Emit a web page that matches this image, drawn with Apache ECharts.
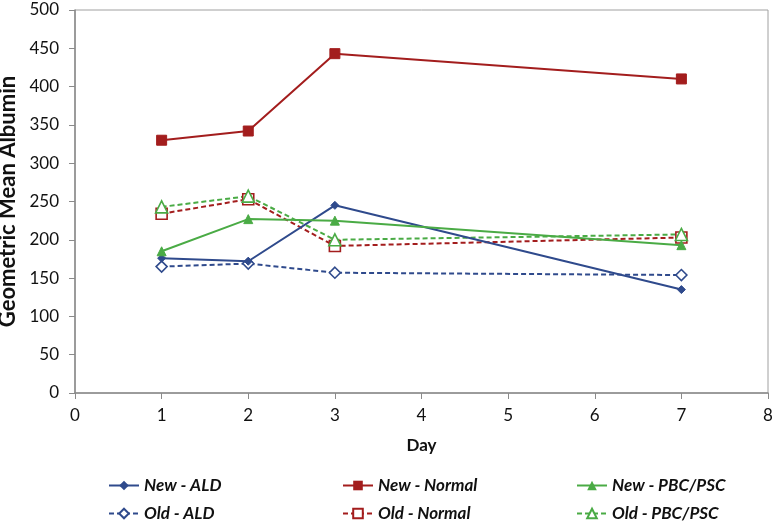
<!DOCTYPE html>
<html><head><meta charset="utf-8">
<script src="https://cdn.jsdelivr.net/npm/echarts@6/dist/echarts.min.js"></script>
<style>html,body{margin:0;padding:0;background:#fff}#c{width:776px;height:524px}</style>
</head><body><div id="c"></div>
<script>
const days = [1, 2, 3, 7];
const newALD = [176, 172, 245, 135];
const newNormal = [330, 342, 443, 410];
const newPBC = [185, 227, 225, 193];
const oldALD = [165, 169, 157, 154];
const oldNormal = [234, 253, 192, 203];
const oldPBC = [243, 257, 200, 207];
const names = ['New - ALD','New - Normal','New - PBC/PSC','Old - ALD','Old - Normal','Old - PBC/PSC'];
const BLUE = '#2f4a8c', RED = '#a31d1d', GREEN = '#4aab45';
const FONT = 'Lato';
function pts(v){ return days.map((d,i)=>[d, v[i]]); }
function ser(name, data, color, symbol, size, dashed){
  return {
    name, type:'line', data: pts(data), symbol, symbolSize: size,
    lineStyle:{color, width:2, type: dashed ? [5,3] : 'solid'},
    itemStyle: dashed ? {color:'#fff', borderColor:color, borderWidth:1.6} : {color, borderColor:color},
    emphasis:{disabled:true}, z: dashed ? 2 : 3
  };
}
const series = [
  ser(names[0], newALD, BLUE, 'diamond', 8, false),
  ser(names[1], newNormal, RED, 'rect', 10, false),
  ser(names[2], newPBC, GREEN, 'triangle', 9, false),
  ser(names[3], oldALD, BLUE, 'diamond', 11, true),
  ser(names[4], oldNormal, RED, 'rect', 11, true),
  ser(names[5], oldPBC, GREEN, 'triangle', 12, true)
];
const legPos = [[103,472],[337,472],[571,472],[103,500],[337,500],[571,500]];
const legends = names.map((n,i)=>({
  data:[n], left: legPos[i][0], top: legPos[i][1], itemWidth: 30, itemHeight: 12, itemGap: 4,
  selectedMode:false,
  textStyle:{fontFamily: FONT, fontStyle:'italic', fontWeight:'bold', fontSize:17, color:'#111'}
}));
const chart = echarts.init(document.getElementById('c'), null, {renderer:'canvas'});
chart.setOption({
  animation:false,
  backgroundColor:'#fff',
  grid:{left:75, right:8, top:10, bottom:131, containLabel:false, outerBoundsMode:'none',
    show:true, borderColor:'#a0a0a0', borderWidth:1},
  legend: legends,
  xAxis:{type:'value', min:0, max:8, interval:1, name:'Day', nameLocation:'middle', nameGap:44,
    nameTextStyle:{fontFamily:FONT, fontWeight:'bold', fontSize:17, color:'#111'},
    axisLine:{lineStyle:{color:'#8a8a8a', width:1.5}}, axisTick:{show:true, length:6, lineStyle:{color:'#8a8a8a'}},
    axisLabel:{fontFamily:FONT, fontSize:17, color:'#111', margin:14}, splitLine:{show:false}},
  yAxis:{type:'value', min:0, max:500, interval:50, name:'Geometric Mean Albumin', nameLocation:'middle', nameGap:49,
    nameTextStyle:{fontFamily:FONT, fontWeight:'bold', fontSize:22, color:'#111'},
    axisLine:{show:true, lineStyle:{color:'#8a8a8a', width:1.5}}, axisTick:{show:true, length:6, lineStyle:{color:'#8a8a8a'}},
    axisLabel:{fontFamily:FONT, fontSize:17, color:'#111', margin:16}, splitLine:{show:false}},
  series
});
</script></body></html>
